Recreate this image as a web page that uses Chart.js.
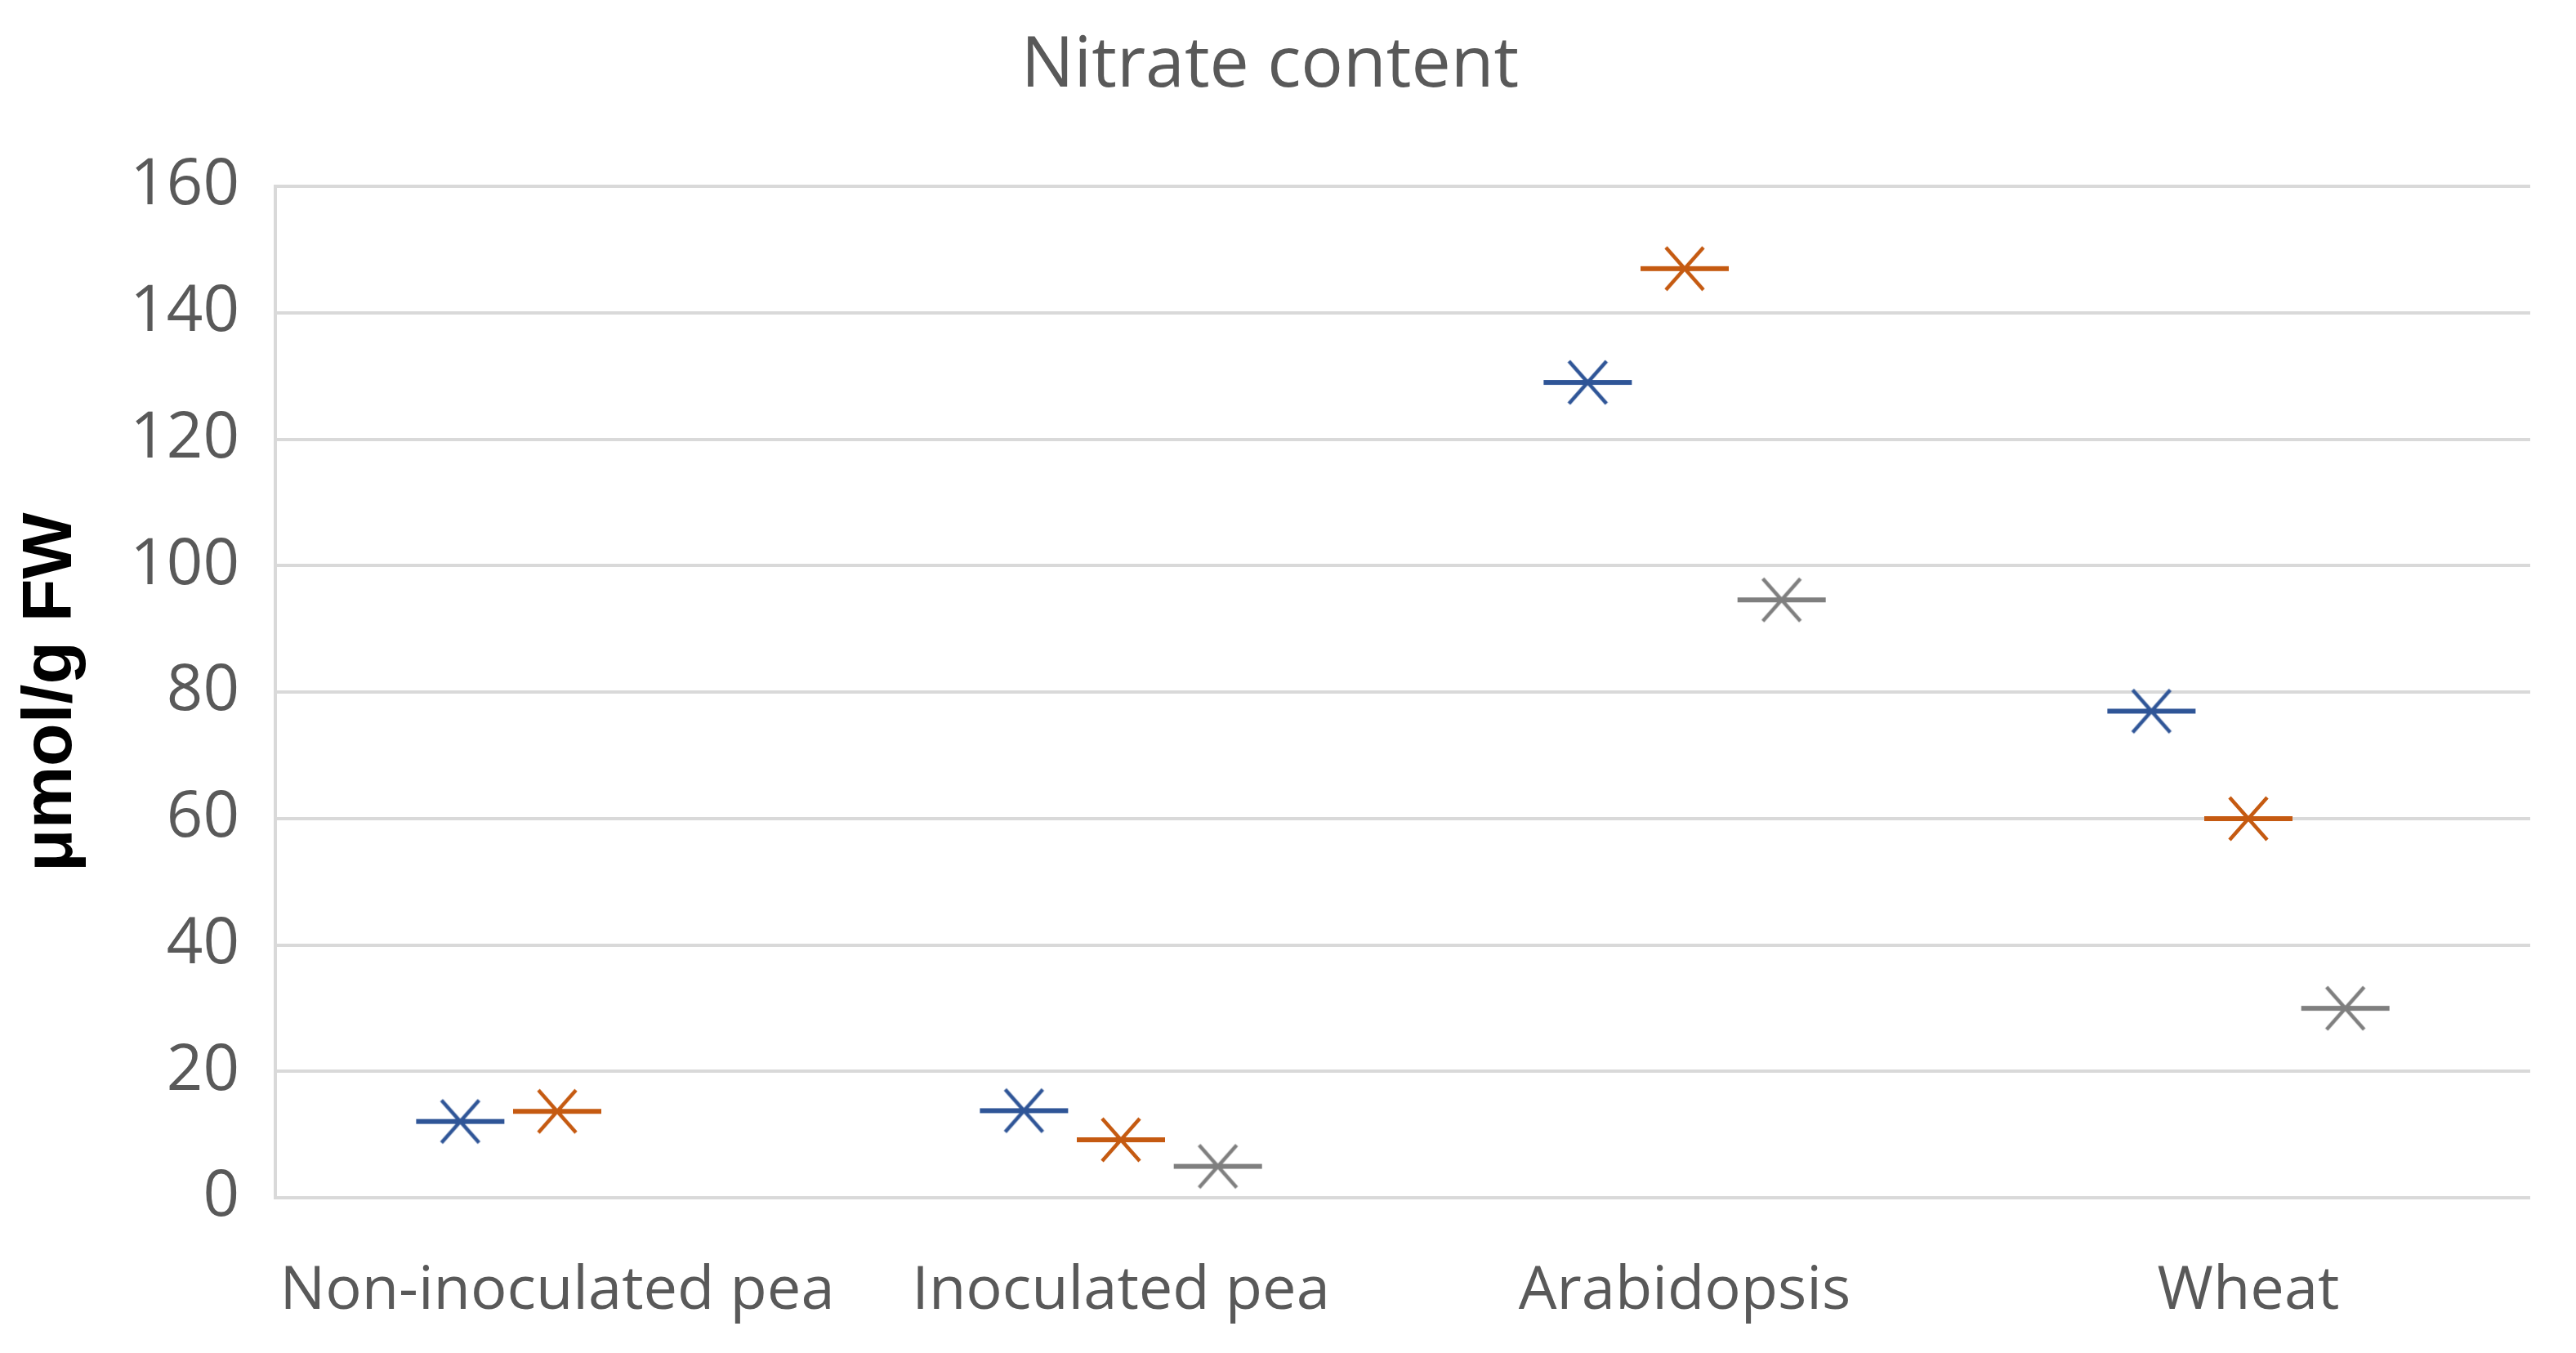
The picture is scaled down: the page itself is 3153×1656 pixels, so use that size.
<!DOCTYPE html>
<html><head><meta charset="utf-8">
<script src="https://cdn.jsdelivr.net/npm/chart.js@4.4.1/dist/chart.umd.min.js"></script>
<style>html,body{margin:0;padding:0;background:#fff;}#c{display:block;}</style>
</head><body>
<canvas id="c" width="3153" height="1656"></canvas>
<script>
const categories = ['Non-inoculated pea', 'Inoculated pea', 'Arabidopsis', 'Wheat'];
const series1 = [12.1, 13.8, 129, 77];
const series2 = [13.7, 9.2, 147, 60];
const series3 = [null, 5, 94.6, 30];
const yTicks = [0, 20, 40, 60, 80, 100, 120, 140, 160];

const colors = ['#2F5597', '#C55A11', '#7F7F7F'];
const offsets = [-0.172, 0, 0.172];

function makeMarker(color) {
  const c = document.createElement('canvas');
  c.width = 112; c.height = 60;
  const g = c.getContext('2d');
  g.strokeStyle = color;
  g.lineWidth = 6;
  g.beginPath(); g.moveTo(2, 30); g.lineTo(110, 30); g.stroke();
  g.lineWidth = 4.5;
  g.beginPath();
  g.moveTo(56 - 23, 30 - 26); g.lineTo(56 + 23, 30 + 26);
  g.moveTo(56 + 23, 30 - 26); g.lineTo(56 - 23, 30 + 26);
  g.stroke();
  return c;
}

function build(vals, si) {
  const pts = [];
  vals.forEach((v, i) => { if (v !== null) pts.push({x: i + offsets[si], y: v}); });
  return {
    data: pts,
    showLine: false,
    pointStyle: makeMarker(colors[si]),
    pointRadius: 30,
    pointHoverRadius: 30,
    borderColor: colors[si],
    backgroundColor: colors[si]
  };
}

new Chart(document.getElementById('c'), {
  type: 'scatter',
  data: { datasets: [build(series1, 0), build(series2, 1), build(series3, 2)] },
  options: {
    responsive: false,
    devicePixelRatio: 1,
    animation: false,
    layout: { padding: { left: 12, right: 56, top: 20, bottom: -39 } },
    plugins: {
      legend: { display: false },
      tooltip: { enabled: false },
      title: {
        display: true,
        text: 'Nitrate content',
        color: '#595959',
        font: { family: 'Open Sans', size: 86, weight: 'normal' },
        padding: { top: 10, bottom: 95 }
      }
    },
    scales: {
      x: {
        type: 'linear',
        min: -0.5, max: 3.5,
        afterBuildTicks: (ax) => { ax.ticks = categories.map((_, i) => ({ value: i })); },
        ticks: {
          callback: (v) => categories[v],
          color: '#595959',
          font: { family: 'Open Sans', size: 74 },
          padding: 70,
          maxRotation: 0, autoSkip: false
        },
        grid: { display: false, drawTicks: false },
        border: { display: false }
      },
      y: {
        min: 0, max: 160,
        afterBuildTicks: (ax) => { ax.ticks = yTicks.map(v => ({ value: v })); },
        ticks: {
          color: '#595959',
          font: { family: 'Open Sans', size: 78 },
          padding: 44
        },
        grid: { color: '#D9D9D9', lineWidth: 4, drawTicks: false },
        border: { display: true, color: '#D9D9D9', width: 4 },
        title: {
          display: true,
          text: 'μmol/g FW',
          color: '#000000',
          font: { family: 'Liberation Sans', size: 86, weight: 'bold' },
          padding: { top: 0, bottom: 0 }
        }
      }
    }
  }
});
</script>
</body></html>
